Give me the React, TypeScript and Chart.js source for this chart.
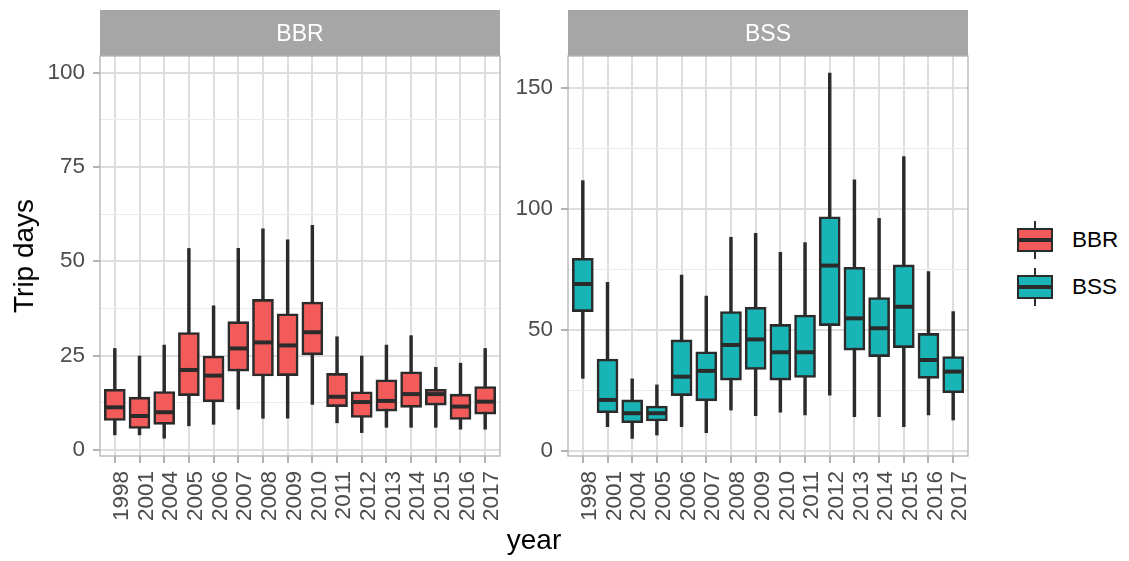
import React, { useEffect, useRef } from 'react';
import { Chart, registerables } from 'chart.js';

Chart.register(...registerables);

const FONT = "'Liberation Sans', Arial, sans-serif";

const years = ['1998', '2001', '2004', '2005', '2006', '2007', '2008', '2009', '2010', '2011', '2012', '2013', '2014', '2015', '2016', '2017'];

// BBR boxplot statistics (whisker low, Q1, median, Q3, whisker high)
const bbrLow = [4.0, 4.0, 3.1, 6.4, 6.8, 10.8, 8.4, 8.4, 12.1, 7.2, 4.6, 6.0, 6.0, 6.0, 5.5, 5.5];
const bbrQ1 = [7.8, 5.7, 6.8, 14.4, 12.8, 20.9, 19.6, 19.7, 25.2, 11.5, 8.6, 10.3, 11.3, 11.9, 8.1, 9.5];
const bbrMedian = [11.3, 9.0, 10.0, 21.2, 19.7, 26.9, 28.5, 27.7, 31.2, 14.1, 12.7, 13.0, 14.8, 14.8, 11.5, 12.8];
const bbrQ3 = [16.1, 14.0, 15.5, 31.1, 24.9, 34.0, 39.9, 36.1, 39.2, 20.3, 15.4, 18.6, 20.7, 16.1, 14.8, 16.8];
const bbrHigh = [26.9, 24.9, 27.8, 53.4, 38.2, 53.4, 58.6, 55.7, 59.5, 30.0, 24.9, 27.8, 30.3, 21.9, 23.0, 26.9];

// BSS boxplot statistics
const bssLow = [30.0, 10.1, 5.2, 6.6, 10.1, 7.6, 16.9, 14.6, 16.0, 14.9, 23.1, 14.2, 14.2, 10.1, 14.9, 12.8];
const bssQ1 = [57.6, 15.8, 11.7, 12.4, 22.9, 20.7, 29.3, 33.7, 29.3, 30.4, 51.8, 41.7, 39.0, 42.7, 30.0, 24.1];
const bssMedian = [69.0, 21.1, 15.6, 15.6, 30.7, 33.1, 43.8, 46.1, 40.8, 40.8, 76.6, 54.8, 50.7, 59.6, 37.6, 32.8];
const bssQ3 = [79.6, 38.0, 21.1, 18.6, 45.9, 41.0, 57.6, 59.4, 52.3, 56.2, 96.8, 75.9, 63.4, 76.9, 48.6, 39.0];
const bssHigh = [111.7, 69.7, 29.8, 27.3, 72.7, 64.0, 88.3, 89.9, 82.1, 86.1, 156.1, 112.0, 96.1, 121.6, 74.1, 57.6];

// y axis ticks
const bbrMajorTicks = [0, 25, 50, 75, 100];
const bbrMinorTicks = [12.5, 37.5, 62.5, 87.5];
const bssMajorTicks = [0, 50, 100, 150];
const bssMinorTicks = [25, 75, 125];

const groups = ['BBR', 'BSS'];
const fills = ['#F35B5A', '#19B4B6'];
const INK = '#2B2B2B';

type Panel = {
  name: string;
  fill: string;
  low: number[];
  q1: number[];
  med: number[];
  q3: number[];
  high: number[];
  yMin: number;
  yMax: number;
  major: number[];
  minor: number[];
};

const panels: Panel[] = [
  { name: groups[0], fill: fills[0], low: bbrLow, q1: bbrQ1, med: bbrMedian, q3: bbrQ3, high: bbrHigh, yMin: -1.6, yMax: 104.4, major: bbrMajorTicks, minor: bbrMinorTicks },
  { name: groups[1], fill: fills[1], low: bssLow, q1: bssQ1, med: bssMedian, q3: bssQ3, high: bssHigh, yMin: -2.07, yMax: 163.2, major: bssMajorTicks, minor: bssMinorTicks },
];

function buildConfig(p: Panel): any {
  const whiskers = years.map((_, i) => ({ x: i, y: [p.low[i], p.high[i]] }));
  const boxes = years.map((_, i) => ({ x: i, y: [p.q1[i], p.q3[i]] }));
  const medians = years.map((_, i) => ({ x: i, y: p.med[i] }));
  const allTicks = [...p.major, ...p.minor].sort((a, b) => a - b);
  const isMajor = (v: number) => p.major.includes(v);

  const panelPlugin = {
    id: 'panelDecor',
    beforeDraw(chart: any) {
      const { ctx, chartArea } = chart;
      const { left, right, top } = chartArea;
      ctx.save();
      ctx.fillStyle = '#A6A6A6';
      ctx.fillRect(left, 10, right - left, top - 10);
      ctx.fillStyle = '#FFFFFF';
      ctx.font = `23px ${FONT}`;
      ctx.textAlign = 'center';
      ctx.textBaseline = 'alphabetic';
      ctx.fillText(p.name, (left + right) / 2, 41);
      ctx.restore();
    },
    afterDraw(chart: any) {
      const { ctx, chartArea } = chart;
      const { left, right, top, bottom } = chartArea;
      ctx.save();
      ctx.strokeStyle = '#B3B3B3';
      ctx.lineWidth = 1.3;
      ctx.strokeRect(left, top, right - left, bottom - top);
      ctx.restore();
    },
  };

  return {
    type: 'bar',
    data: {
      datasets: [
        {
          type: 'scatter',
          label: p.name + ' median',
          data: medians,
          pointStyle: 'line',
          pointRadius: 10,
          pointHoverRadius: 10,
          borderColor: INK,
          pointBorderColor: INK,
          pointBorderWidth: 4,
          pointHoverBorderWidth: 4,
          backgroundColor: INK,
          showLine: false,
          clip: false,
          order: 1,
        },
        {
          type: 'bar',
          label: p.name + ' box',
          data: boxes,
          backgroundColor: p.fill,
          borderColor: INK,
          borderWidth: 2.6,
          borderSkipped: false,
          barThickness: 21,
          grouped: false,
          order: 2,
        },
        {
          type: 'bar',
          label: p.name + ' whisker',
          data: whiskers,
          backgroundColor: INK,
          borderWidth: 0,
          barThickness: 2.8,
          grouped: false,
          order: 3,
        },
      ],
    },
    options: {
      animation: false,
      responsive: false,
      events: [],
      layout: { autoPadding: false, padding: { top: 56, right: 5, left: 0, bottom: 0 } },
      plugins: { legend: { display: false }, tooltip: { enabled: false } },
      scales: {
        x: {
          type: 'linear',
          min: -0.6,
          max: 15.6,
          offset: false,
          afterBuildTicks: (s: any) => {
            s.ticks = years.map((_, i) => ({ value: i }));
          },
          afterFit: (s: any) => {
            s.height = 105;
            s.paddingLeft = 0;
            s.paddingRight = 0;
          },
          grid: { color: '#DEDEDE', lineWidth: 2, tickLength: 7, tickColor: '#B3B3B3', offset: false },
          border: { display: false },
          ticks: {
            autoSkip: false,
            maxRotation: 90,
            minRotation: 90,
            padding: 8,
            labelOffset: 7,
            color: '#4D4D4D',
            font: { family: FONT, size: 22.5 },
            callback: (v: any) => years[Math.round(Number(v))] ?? '',
          },
        },
        y: {
          type: 'linear',
          min: p.yMin,
          max: p.yMax,
          afterBuildTicks: (s: any) => {
            s.ticks = allTicks.map((v) => ({ value: v }));
          },
          afterFit: (s: any) => {
            s.width = 100;
            s.paddingTop = 0;
            s.paddingBottom = 0;
          },
          grid: {
            color: (ctx: any) => (ctx.tick && isMajor(ctx.tick.value) ? '#DEDEDE' : '#EBEBEB'),
            lineWidth: (ctx: any) => (ctx.tick && isMajor(ctx.tick.value) ? 2 : 1),
            tickColor: (ctx: any) => (ctx.tick && isMajor(ctx.tick.value) ? '#B3B3B3' : 'rgba(0,0,0,0)'),
            tickLength: 7,
          },
          border: { display: false },
          ticks: {
            padding: 8,
            color: '#4D4D4D',
            font: { family: FONT, size: 22.5 },
            callback: (v: any) => (isMajor(Number(v)) ? String(v) : ''),
          },
        },
      },
    },
    plugins: [panelPlugin],
  };
}

function PanelChart({ panel, left }: { panel: Panel; left: number }) {
  const ref = useRef<HTMLCanvasElement | null>(null);
  useEffect(() => {
    if (!ref.current) return;
    const chart = new Chart(ref.current, buildConfig(panel));
    return () => chart.destroy();
  }, [panel]);
  return (
    <canvas
      ref={ref}
      width={505}
      height={561}
      style={{ position: 'absolute', left, top: 0, width: 505, height: 561 }}
    />
  );
}

function LegendKey({ label, fill, center }: { label: string; fill: string; center: number }) {
  return (
    <>
      <div style={{ position: 'absolute', left: 1033.6, top: center - 19, width: 2.8, height: 38, background: INK }} />
      <div
        style={{
          position: 'absolute',
          left: 1017,
          top: center - 12,
          width: 36,
          height: 24,
          background: fill,
          border: `2.6px solid ${INK}`,
          boxSizing: 'border-box',
        }}
      />
      <div style={{ position: 'absolute', left: 1017, top: center - 2, width: 36, height: 4, background: INK }} />
      <div
        style={{
          position: 'absolute',
          left: 1072,
          top: center - 13,
          height: 26,
          lineHeight: '26px',
          fontFamily: FONT,
          fontSize: 22.5,
          color: '#000000',
          whiteSpace: 'nowrap',
        }}
      >
        {label}
      </div>
    </>
  );
}

export default function App() {
  return (
    <div style={{ position: 'absolute', left: 0, top: 0, width: 1129, height: 561, background: '#FFFFFF', overflow: 'hidden' }}>
      <PanelChart panel={panels[0]} left={0} />
      <PanelChart panel={panels[1]} left={468} />
      <div
        style={{
          position: 'absolute',
          left: 23.5,
          top: 256,
          transform: 'translate(-50%, -50%) rotate(-90deg)',
          fontFamily: FONT,
          fontSize: 28,
          lineHeight: '28px',
          color: '#000000',
          whiteSpace: 'nowrap',
        }}
      >
        Trip days
      </div>
      <div
        style={{
          position: 'absolute',
          left: 534,
          top: 526,
          transform: 'translateX(-50%)',
          fontFamily: FONT,
          fontSize: 28,
          lineHeight: '28px',
          color: '#000000',
          whiteSpace: 'nowrap',
        }}
      >
        year
      </div>
      <LegendKey label={groups[0]} fill={fills[0]} center={240} />
      <LegendKey label={groups[1]} fill={fills[1]} center={287} />
    </div>
  );
}
